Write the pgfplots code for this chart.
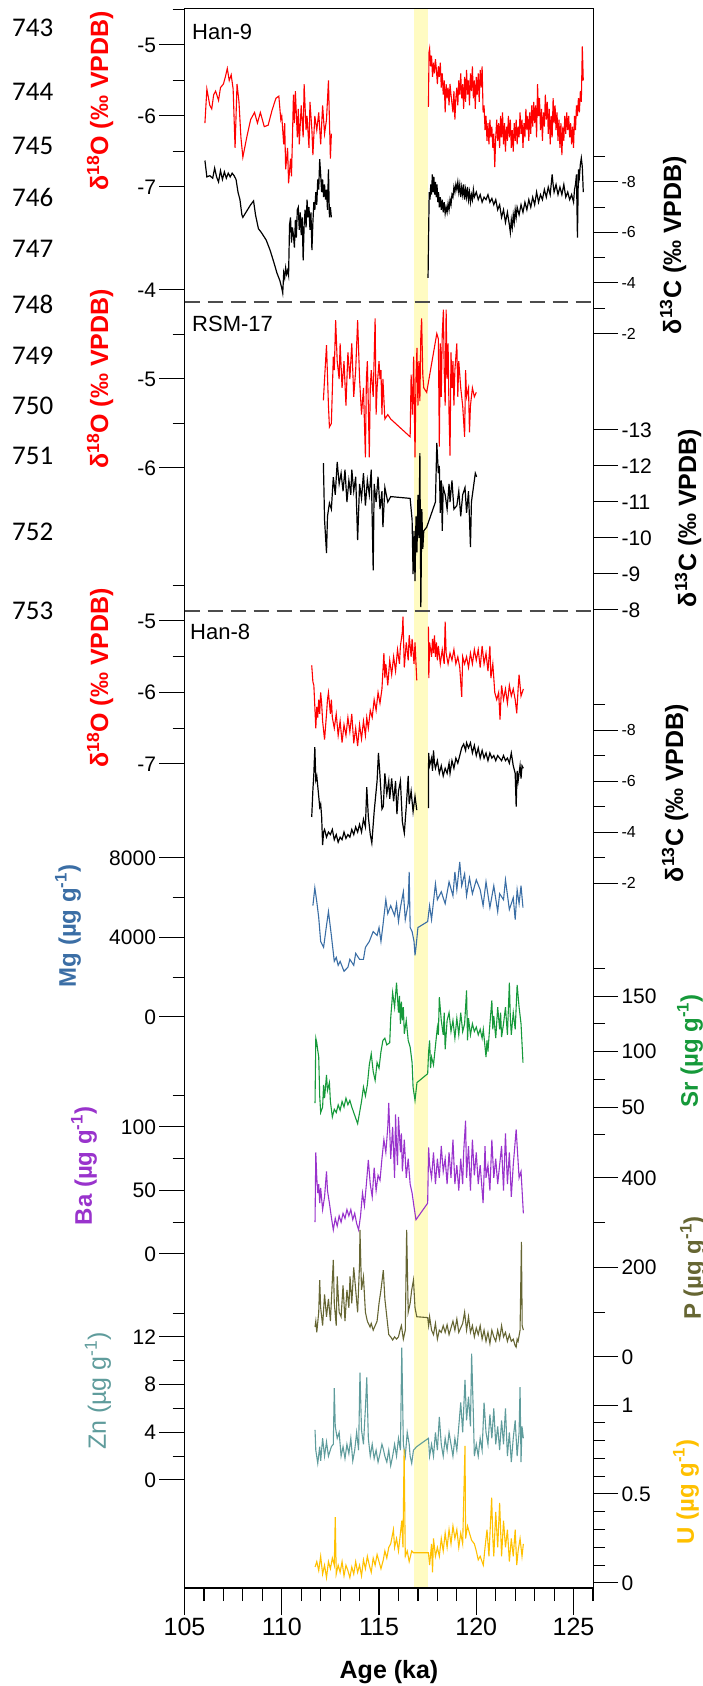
\documentclass[border=0pt]{standalone}
\usepackage{pgfplots}
\pgfplotsset{compat=1.18}
\usepackage{fontspec}
\setmainfont{Liberation Sans}
\newfontfamily\calib{Carlito}
\definecolor{cRed}{HTML}{FF0000}
\definecolor{cMg}{HTML}{3B6EA5}
\definecolor{cSr}{HTML}{16993A}
\definecolor{cBa}{HTML}{9933CC}
\definecolor{cP}{HTML}{666633}
\definecolor{cZn}{HTML}{5F9C9C}
\definecolor{cU}{HTML}{FFC000}
\definecolor{cBand}{HTML}{FFFBC2}
\newcommand\tfa{\fontsize{21}{22}\selectfont}
\newcommand\tfb{\fontsize{16}{17}\selectfont}
\newcommand\lab{\bfseries\fontsize{25}{26}\selectfont}
\newcommand\labb{\bfseries\fontsize{24}{25}\selectfont}
\pgfplotsset{
  lay/.style={scale only axis, width=408.5pt, height=1579pt,
    at={(184.5pt,98pt)}, anchor=south west, xmin=105, xmax=126, clip=false},
  ser/.style={lay, hide x axis, y axis line style={draw=none},
    ytick align=outside, major tick length=25pt, minor tick length=12pt,
    every tick/.style={black, line width=1pt},
    scaled y ticks=false,
    /pgf/number format/fixed, /pgf/number format/1000 sep={},
    /pgf/number format/assume math mode=true},
  L/.style={ser, axis y line*=left, yticklabel style={font=\tfa}},
  R/.style={ser, axis y line*=right, yticklabel style={font=\tfa}},
}
\begin{document}
\begin{tikzpicture}[x=1pt,y=1pt]

% ---------- frame, band, dashed separators, x axis ----------
\begin{axis}[lay, ymin=0, ymax=1, ytick=\empty,
  xtick={105,110,115,120,125},
  minor xtick={106,107,108,109,111,112,113,114,116,117,118,119,121,122,123,124,126},
  xtick pos=bottom, xtick align=outside,
  major tick length=27pt, minor tick length=13pt,
  every tick/.style={black, line width=1.2pt},
  axis line style={line width=1pt},
  xticklabel style={font=\fontsize{25}{26}\selectfont},
  /pgf/number format/assume math mode=true]
  \fill[cBand] (axis cs:116.8,0) rectangle (axis cs:117.5,1);
  \draw[black!70, line width=1.3pt, dash pattern=on 15pt off 8pt] (axis cs:105,0.8144) -- (axis cs:126,0.8144);
  \draw[black!70, line width=1.3pt, dash pattern=on 15pt off 8pt] (axis cs:105,0.6188) -- (axis cs:126,0.6188);
  \draw[line width=2.5pt] (axis cs:105,0) -- (axis cs:126,0);
\end{axis}

% ---------- Han-9 d18O (left) ----------
\begin{axis}[L, ymin=-26.732, ymax=-4.493, ytick={-7,-6,-5}, minor ytick={-6.5,-5.5,-4.5}]
\addplot[cRed, line width=1.1pt] coordinates {
(106.05,-6.10)(106.15,-5.62)(106.3,-5.85)(106.4,-5.90)(106.5,-5.70)(106.6,-5.65)(106.75,-5.78)(106.85,-5.60)
(107.0,-5.55)(107.1,-5.45)(107.2,-5.33)(107.3,-5.50)(107.4,-5.42)(107.5,-5.62)(107.6,-6.45)(107.7,-5.55)
(107.8,-5.80)(107.9,-6.30)(108.0,-6.58)(108.2,-6.30)(108.4,-6.05)(108.6,-5.95)(108.75,-6.10)(108.9,-5.95)
(109.1,-6.15)(109.3,-6.13)(109.5,-5.92)(109.7,-5.75)(109.85,-5.72)(109.95,-6.05)(110.0,-6.00)(110.05,-6.20)
(110.1,-6.40)(110.15,-6.10)(110.2,-6.75)(110.3,-6.45)(110.35,-6.95)(110.45,-6.60)(110.5,-6.85)(110.55,-6.30)
(110.6,-5.70)(110.65,-6.10)(110.7,-5.65)(110.8,-6.30)(110.85,-5.90)(110.9,-6.40)(111.0,-5.85)(111.1,-6.30)
(111.15,-5.55)(111.25,-6.20)(111.3,-6.00)(111.4,-6.45)(111.45,-5.80)(111.55,-6.20)(111.6,-6.55)(111.7,-6.00)
(111.8,-6.20)(111.9,-5.95)(112.0,-6.40)(112.1,-5.85)(112.2,-6.25)(112.3,-6.05)(112.4,-5.50)(112.5,-6.60)(112.55,-6.25)};
\addplot[cRed, line width=1.1pt] coordinates {
(117.54,-5.87)(117.57,-5.10)(117.60,-5.05)(117.65,-5.30)(117.70,-5.15)(117.75,-5.45)(117.80,-5.25)(117.85,-5.40)
(117.90,-5.20)(117.95,-5.35)(118.00,-5.55)(118.05,-5.30)(118.10,-5.45)(118.15,-5.25)(118.20,-5.60)(118.25,-5.40)
(118.30,-5.70)(118.35,-5.50)(118.40,-5.95)(118.45,-5.55)(118.50,-5.75)(118.55,-5.60)(118.60,-5.85)(118.65,-5.55)
(118.70,-5.70)(118.80,-5.95)(118.85,-5.65)(118.90,-6.05)(118.95,-5.75)(119.00,-5.60)(119.05,-5.85)(119.10,-5.50)
(119.15,-5.70)(119.20,-5.40)(119.25,-5.75)(119.30,-5.55)(119.35,-5.90)(119.40,-5.45)(119.45,-5.80)(119.50,-5.35)
(119.55,-5.70)(119.60,-5.50)(119.65,-5.85)(119.70,-5.40)(119.75,-5.65)(119.80,-5.30)(119.85,-5.75)(119.90,-5.50)
(119.95,-5.90)(120.00,-5.45)(120.05,-5.70)(120.10,-5.40)(120.15,-5.80)(120.20,-5.35)(120.25,-5.60)(120.30,-5.30)
(120.35,-5.95)(120.40,-5.85)(120.45,-6.20)(120.50,-6.00)(120.55,-6.35)(120.60,-6.10)(120.65,-6.40)(120.70,-6.05)
(120.75,-6.30)(120.80,-6.15)(120.85,-6.45)(120.90,-6.25)(120.95,-6.72)(121.00,-6.30)(121.05,-6.05)(121.10,-6.35)
(121.15,-6.10)(121.20,-6.45)(121.25,-6.00)(121.30,-6.30)(121.35,-5.95)(121.40,-6.40)(121.45,-6.10)(121.50,-6.50)
(121.55,-6.15)(121.60,-6.35)(121.65,-6.00)(121.70,-6.30)(121.75,-6.05)(121.80,-6.45)(121.85,-6.20)(121.90,-6.50)
(121.95,-6.10)(122.00,-6.35)(122.05,-6.05)(122.10,-6.40)(122.15,-6.15)(122.20,-6.30)(122.25,-5.95)(122.30,-6.25)
(122.35,-6.05)(122.40,-6.45)(122.45,-6.10)(122.50,-6.30)(122.55,-5.90)(122.60,-6.20)(122.65,-6.00)(122.70,-6.35)
(122.75,-5.95)(122.80,-6.25)(122.85,-5.85)(122.90,-6.15)(122.95,-5.80)(123.00,-6.10)(123.05,-5.85)(123.10,-6.30)
(123.15,-5.55)(123.20,-6.00)(123.25,-5.75)(123.30,-6.20)(123.35,-5.90)(123.40,-6.35)(123.45,-5.95)(123.50,-6.15)
(123.55,-5.70)(123.60,-6.05)(123.65,-5.80)(123.70,-6.25)(123.75,-5.90)(123.80,-6.40)(123.85,-6.00)(123.90,-6.30)
(123.95,-5.75)(124.00,-6.10)(124.05,-5.85)(124.10,-6.20)(124.15,-5.95)(124.20,-6.35)(124.25,-6.05)(124.30,-6.45)
(124.35,-6.10)(124.40,-6.55)(124.45,-6.15)(124.50,-6.35)(124.55,-6.00)(124.60,-6.25)(124.65,-5.95)(124.70,-6.20)
(124.75,-6.00)(124.80,-6.30)(124.85,-6.10)(124.90,-6.40)(124.95,-6.15)(125.00,-6.45)(125.05,-6.00)(125.10,-6.20)
(125.15,-5.85)(125.20,-6.00)(125.25,-5.75)(125.30,-5.95)(125.35,-5.65)(125.40,-5.80)(125.45,-5.02)(125.50,-5.50)};
\end{axis}

% ---------- Han-9 d13C (right, reversed) ----------
\begin{axis}[R, y dir=reverse, ymin=-14.851, ymax=47.683, ytick={-8,-6,-4,-2}, minor ytick={-9,-7,-5,-3},
  yticklabel style={font=\tfb}]
\addplot[black, line width=1.2pt] coordinates {
(106.05,-8.85)(106.15,-8.2)(106.3,-8.25)(106.45,-8.15)(106.55,-8.55)(106.65,-8.2)(106.75,-8.0)(106.85,-8.45)
(106.95,-8.1)(107.05,-8.4)(107.15,-8.15)(107.25,-8.35)(107.35,-8.2)(107.45,-8.35)(107.55,-8.25)(107.65,-8.1)
(107.75,-7.6)(107.85,-7.3)(107.95,-6.7)(108.0,-6.6)(108.2,-6.85)(108.4,-7.1)(108.55,-7.25)(108.65,-6.7)
(108.8,-6.15)(108.95,-6.0)(109.2,-5.7)(109.4,-5.3)(109.6,-4.8)(109.75,-4.4)(109.9,-4.1)(110.0,-3.8)
(110.05,-3.6)(110.1,-4.4)(110.15,-4.2)(110.2,-4.6)(110.25,-4.35)(110.3,-4.5)(110.35,-4.3)(110.4,-6.3)
(110.45,-6.6)(110.5,-5.6)(110.55,-6.2)(110.6,-5.9)(110.65,-5.4)(110.7,-6.5)(110.75,-5.8)(110.8,-6.9)
(110.85,-7.0)(110.9,-6.1)(110.95,-6.8)(111.0,-5.9)(111.05,-6.6)(111.1,-4.9)(111.15,-6.3)(111.2,-6.9)
(111.25,-6.2)(111.3,-7.3)(111.35,-6.6)(111.4,-7.0)(111.45,-6.1)(111.5,-6.8)(111.55,-5.3)(111.6,-6.4)
(111.65,-7.2)(111.7,-6.9)(111.75,-7.6)(111.8,-7.1)(111.85,-8.1)(111.9,-7.7)(111.95,-8.9)(112.0,-8.3)
(112.05,-7.6)(112.1,-8.1)(112.15,-7.4)(112.2,-7.9)(112.25,-7.3)(112.3,-7.7)(112.35,-6.9)(112.4,-8.5)
(112.45,-6.6)(112.5,-7.0)(112.55,-6.6)};
\addplot[black, line width=1.2pt] coordinates {
(117.52,-4.2)(117.55,-6.0)(117.58,-7.6)(117.62,-7.3)(117.66,-7.9)(117.7,-7.5)(117.74,-8.3)(117.78,-7.6)
(117.82,-8.2)(117.86,-7.5)(117.9,-8.0)(117.94,-7.4)(117.98,-7.9)(118.02,-7.2)(118.06,-7.6)(118.1,-7.0)
(118.15,-7.4)(118.2,-6.9)(118.25,-7.3)(118.3,-6.8)(118.35,-7.2)(118.4,-6.75)(118.45,-7.0)(118.5,-6.8)
(118.55,-7.15)(118.6,-6.9)(118.65,-7.3)(118.7,-7.1)(118.75,-7.5)(118.8,-7.4)(118.85,-7.8)(118.9,-7.6)
(118.95,-7.9)(119.0,-7.7)(119.05,-8.0)(119.1,-7.6)(119.15,-7.9)(119.2,-7.4)(119.25,-7.8)(119.3,-7.5)
(119.35,-7.9)(119.4,-7.3)(119.45,-7.7)(119.5,-7.4)(119.55,-7.8)(119.6,-7.3)(119.65,-7.6)(119.7,-7.2)
(119.75,-7.5)(119.8,-7.3)(119.85,-7.7)(119.9,-7.4)(120.0,-7.6)(120.1,-7.3)(120.2,-7.5)(120.3,-7.2)
(120.4,-7.4)(120.5,-7.3)(120.6,-7.5)(120.7,-7.2)(120.8,-7.35)(120.9,-7.1)(121.0,-7.3)(121.1,-6.9)
(121.2,-7.1)(121.3,-6.6)(121.4,-6.9)(121.5,-6.4)(121.6,-6.8)(121.7,-6.3)(121.75,-6.0)(121.8,-6.5)
(121.85,-6.2)(121.9,-6.7)(121.95,-6.4)(122.0,-6.9)(122.05,-6.6)(122.1,-7.0)(122.2,-6.7)(122.3,-7.1)
(122.4,-6.8)(122.5,-7.2)(122.6,-6.9)(122.7,-7.3)(122.8,-7.0)(122.9,-7.4)(123.0,-7.1)(123.1,-7.6)
(123.2,-7.2)(123.3,-7.5)(123.4,-7.3)(123.5,-7.7)(123.6,-7.4)(123.7,-7.8)(123.8,-7.5)(123.9,-8.3)
(123.95,-7.9)(124.0,-7.6)(124.1,-7.9)(124.2,-7.5)(124.3,-7.8)(124.4,-7.5)(124.5,-7.9)(124.6,-7.4)
(124.7,-7.6)(124.8,-7.3)(124.9,-7.5)(125.0,-7.2)(125.05,-7.7)(125.1,-7.9)(125.15,-8.3)(125.2,-5.8)
(125.25,-8.5)(125.3,-8.2)(125.35,-8.7)(125.4,-8.95)(125.45,-8.6)(125.5,-7.6)};
\end{axis}

% ---------- RSM-17 d18O (left) ----------
\begin{axis}[L, ymin=-18.584, ymax=-0.8427, ytick={-6,-5,-4}, minor ytick={-5.5,-4.5}]
\addplot[cRed, line width=1.1pt] coordinates {
(112.14,-5.24)(112.2,-5.0)(112.3,-4.62)(112.4,-5.3)(112.45,-5.54)(112.55,-5.5)(112.65,-4.75)(112.7,-4.9)
(112.77,-4.34)(112.85,-4.8)(112.95,-5.0)(113.0,-4.6)(113.1,-5.1)(113.2,-4.8)(113.3,-5.3)(113.4,-4.7)
(113.5,-5.0)(113.6,-4.6)(113.7,-5.2)(113.8,-4.9)(113.9,-4.34)(114.0,-5.0)(114.1,-5.4)(114.2,-5.1)
(114.3,-5.88)(114.35,-5.0)(114.4,-4.8)(114.45,-5.3)(114.5,-5.88)(114.55,-5.1)(114.6,-4.9)(114.7,-5.2)
(114.8,-4.32)(114.85,-5.4)(114.9,-5.1)(115.0,-4.8)(115.05,-5.0)(115.1,-4.9)(115.15,-5.4)(115.2,-5.0)
(115.3,-5.45)(115.45,-5.4)(115.6,-5.45)(116.6,-5.65)(116.65,-4.95)(116.72,-5.4)(116.78,-4.75)(116.85,-5.88)
(116.9,-5.0)(116.95,-4.65)(117.0,-5.3)(117.05,-4.8)(117.1,-5.25)(117.15,-4.5)(117.19,-4.32)(117.25,-4.95)
(117.3,-5.1)(117.45,-5.15)(117.97,-4.49)(118.05,-4.55)(118.1,-5.76)(118.15,-4.6)(118.2,-5.2)(118.25,-4.5)
(118.31,-4.22)(118.35,-4.9)(118.4,-5.3)(118.45,-4.22)(118.5,-5.0)(118.55,-4.6)(118.6,-5.4)(118.65,-5.86)
(118.7,-4.7)(118.75,-5.1)(118.8,-4.8)(118.85,-5.3)(118.9,-4.9)(119.0,-4.6)(119.05,-5.2)(119.1,-4.8)
(119.2,-5.1)(119.3,-5.3)(119.4,-5.65)(119.45,-4.9)(119.5,-5.2)(119.6,-5.1)(119.65,-5.6)(119.7,-5.3)
(119.8,-5.1)(119.9,-5.2)(120.0,-5.15)};
\end{axis}

% ---------- RSM-17 d13C (right, reversed) ----------
\begin{axis}[R, y dir=reverse, ymin=-24.694, ymax=19.167, ytick={-13,-12,-11,-10,-9,-8}]
\addplot[black, line width=1.2pt] coordinates {
(112.14,-12.08)(112.2,-10.5)(112.3,-9.58)(112.35,-10.6)(112.45,-10.97)(112.55,-10.8)(112.65,-11.69)(112.75,-11.2)
(112.85,-12.11)(112.95,-11.5)(113.05,-11.8)(113.15,-11.3)(113.25,-11.9)(113.35,-11.0)(113.45,-11.6)(113.55,-11.2)
(113.6,-11.9)(113.7,-11.3)(113.8,-11.7)(113.9,-9.94)(114.0,-11.5)(114.1,-11.1)(114.2,-11.8)(114.3,-10.9)
(114.4,-11.6)(114.5,-11.2)(114.6,-11.9)(114.7,-9.1)(114.75,-11.5)(114.85,-11.0)(114.95,-11.7)(115.05,-10.8)
(115.15,-11.3)(115.2,-10.3)(115.3,-11.4)(115.45,-11.0)(115.6,-11.15)(116.6,-11.1)(116.7,-10.5)(116.75,-9.0)
(116.8,-10.2)(116.85,-8.8)(116.9,-10.6)(116.95,-9.6)(117.0,-11.2)(117.05,-10.0)(117.1,-12.36)(117.12,-10.5)
(117.15,-8.08)(117.2,-10.8)(117.25,-9.7)(117.3,-10.2)(117.45,-10.3)(117.9,-11.0)(117.97,-12.64)(118.05,-11.8)
(118.1,-12.0)(118.15,-10.7)(118.2,-11.6)(118.25,-10.2)(118.3,-11.4)(118.4,-11.2)(118.5,-10.8)(118.6,-11.5)
(118.65,-11.0)(118.75,-11.6)(118.85,-10.8)(119.0,-10.9)(119.1,-11.3)(119.2,-10.6)(119.3,-11.2)(119.42,-11.4)
(119.5,-10.7)(119.6,-11.3)(119.7,-9.75)(119.75,-11.0)(119.85,-11.4)(119.95,-11.8)(120.02,-11.7)};
\end{axis}

% ---------- Han-8 d18O (left) ----------
\begin{axis}[L, ymin=-18.524, ymax=3.559, ytick={-7,-6,-5}, minor ytick={-6.5,-5.5,-4.5}]
\addplot[cRed, line width=1.1pt] coordinates {
(111.54,-5.62)(111.6,-5.85)(111.65,-5.9)(111.7,-6.2)(111.75,-6.5)(111.8,-6.2)(111.85,-6.35)(111.9,-6.1)
(111.95,-6.3)(112.0,-6.0)(112.05,-6.15)(112.1,-6.4)(112.2,-6.66)(112.3,-6.3)(112.35,-6.1)(112.4,-6.0)
(112.5,-6.3)(112.55,-6.1)(112.6,-6.35)(112.7,-6.5)(112.8,-6.3)(112.9,-6.6)(113.0,-6.4)(113.1,-6.7)
(113.2,-6.45)(113.3,-6.6)(113.4,-6.35)(113.5,-6.55)(113.6,-6.3)(113.7,-6.71)(113.8,-6.5)(113.9,-6.75)
(114.0,-6.45)(114.1,-6.65)(114.2,-6.4)(114.3,-6.6)(114.37,-6.35)(114.45,-6.5)(114.55,-6.25)(114.65,-6.35)
(114.75,-6.1)(114.85,-6.25)(114.95,-6.0)(115.05,-6.15)(115.15,-5.95)(115.25,-5.45)(115.3,-5.8)(115.35,-5.6)
(115.45,-5.9)(115.55,-5.55)(115.65,-5.75)(115.75,-5.5)(115.85,-5.7)(115.95,-5.4)(116.05,-5.6)(116.1,-5.35)
(116.2,-5.15)(116.23,-4.94)(116.3,-5.65)(116.4,-5.3)(116.5,-5.55)(116.55,-5.2)(116.65,-5.5)(116.7,-5.25)
(116.8,-5.6)(116.85,-5.3)(116.94,-5.83)};
\addplot[cRed, line width=1.1pt] coordinates {
(117.54,-5.08)(117.56,-5.8)(117.6,-5.3)(117.7,-5.5)(117.75,-5.25)(117.8,-5.45)(117.85,-5.2)(117.9,-5.5)
(117.95,-5.3)(118.0,-5.55)(118.05,-5.35)(118.15,-5.6)(118.25,-5.4)(118.35,-5.6)(118.4,-5.01)(118.45,-5.45)
(118.55,-5.6)(118.65,-5.45)(118.75,-5.55)(118.85,-5.4)(118.95,-5.6)(119.05,-5.5)(119.15,-5.65)(119.25,-6.06)
(119.3,-5.5)(119.4,-5.6)(119.5,-5.5)(119.6,-5.65)(119.7,-5.45)(119.8,-5.6)(119.9,-5.4)(120.0,-5.55)
(120.1,-5.4)(120.2,-5.65)(120.3,-5.35)(120.4,-5.6)(120.5,-5.45)(120.6,-5.7)(120.7,-5.35)(120.75,-5.8)
(120.85,-5.6)(120.95,-6.0)(121.05,-6.1)(121.15,-6.0)(121.22,-6.38)(121.3,-5.9)(121.4,-6.1)(121.5,-5.95)
(121.6,-6.15)(121.7,-5.9)(121.8,-6.05)(121.9,-5.95)(122.0,-6.1)(122.08,-6.29)(122.15,-5.95)(122.2,-5.75)
(122.3,-6.05)(122.42,-5.95)};
\end{axis}

% ---------- Han-8 d13C (right, reversed) ----------
\begin{axis}[R, y dir=reverse, ymin=-36.275, ymax=25.647, ytick={-8,-6,-4,-2}, minor ytick={-9,-7,-5,-3},
  yticklabel style={font=\tfb}]
\addplot[black, line width=1.2pt] coordinates {
(111.54,-4.59)(111.6,-5.65)(111.65,-6.3)(111.7,-7.33)(111.75,-6.04)(111.8,-6.2)(111.85,-5.8)(111.9,-5.4)
(111.95,-4.98)(112.0,-5.1)(112.05,-4.6)(112.1,-3.49)(112.15,-4.0)(112.2,-4.1)(112.3,-3.8)(112.4,-4.0)
(112.5,-3.9)(112.6,-4.1)(112.7,-3.7)(112.8,-3.9)(112.9,-3.6)(113.0,-3.8)(113.1,-3.7)(113.2,-4.0)
(113.3,-3.75)(113.4,-3.9)(113.5,-3.8)(113.6,-4.1)(113.7,-3.9)(113.8,-4.2)(113.9,-4.0)(114.0,-4.3)
(114.1,-4.0)(114.2,-4.5)(114.3,-4.2)(114.37,-5.76)(114.45,-4.6)(114.55,-3.9)(114.63,-3.57)(114.75,-4.8)
(114.9,-6.0)(114.97,-7.1)(115.05,-6.2)(115.15,-4.9)(115.22,-5.0)(115.3,-6.3)(115.4,-5.5)(115.5,-6.0)
(115.55,-5.3)(115.65,-6.1)(115.75,-5.2)(115.85,-6.0)(115.92,-4.7)(116.0,-5.6)(116.1,-6.0)(116.2,-4.4)
(116.3,-3.96)(116.4,-5.0)(116.5,-6.2)(116.55,-5.1)(116.65,-5.6)(116.75,-4.8)(116.85,-5.4)(116.94,-4.86)};
\addplot[black, line width=1.2pt] coordinates {
(117.54,-4.94)(117.55,-7.1)(117.6,-6.6)(117.7,-6.9)(117.75,-6.4)(117.8,-7.2)(117.85,-6.7)(117.9,-6.5)
(118.0,-6.8)(118.1,-6.3)(118.2,-6.6)(118.3,-6.2)(118.4,-6.5)(118.5,-6.3)(118.6,-6.7)(118.65,-6.3)
(118.75,-6.8)(118.85,-6.5)(118.95,-6.9)(119.05,-6.7)(119.15,-7.0)(119.25,-7.3)(119.35,-7.45)(119.45,-7.2)
(119.5,-7.5)(119.6,-7.3)(119.7,-7.5)(119.8,-7.1)(119.9,-7.4)(120.0,-7.0)(120.1,-7.3)(120.2,-6.9)
(120.3,-7.2)(120.4,-6.9)(120.5,-7.1)(120.6,-6.8)(120.7,-7.1)(120.8,-6.9)(120.9,-7.0)(121.0,-6.8)
(121.1,-7.0)(121.2,-6.9)(121.3,-6.8)(121.4,-7.0)(121.5,-6.8)(121.6,-6.9)(121.7,-6.7)(121.8,-7.1)
(121.9,-6.6)(122.0,-6.3)(122.05,-5.0)(122.1,-6.4)(122.15,-6.0)(122.25,-6.6)(122.3,-6.1)(122.35,-6.6)(122.42,-6.5)};
\end{axis}

% ---------- Mg (left) ----------
\begin{axis}[L, ymin=-28729, ymax=50717, ytick={0,4000,8000}, minor ytick={2000,6000}]
\addplot[cMg, line width=1.1pt] coordinates {
(111.6,5600)(111.7,6500)(111.8,5800)(111.9,5000)(112.0,3800)(112.15,3500)(112.3,4600)(112.4,5300)
(112.55,4100)(112.7,2800)(112.8,3000)(112.9,2600)(113.0,2800)(113.2,2300)(113.4,2500)(113.5,2900)
(113.7,2600)(113.8,3200)(114.0,2900)(114.2,2900)(114.3,3500)(114.5,3800)(114.7,4300)(114.9,4100)
(115.0,4500)(115.1,3800)(115.2,4600)(115.35,5900)(115.45,5200)(115.6,5600)(115.8,5100)(115.9,5700)
(116.0,4800)(116.1,5500)(116.25,6300)(116.35,4900)(116.5,5700)(116.55,7300)(116.6,4500)(116.7,4300)
(116.8,3800)(116.85,3100)(116.9,3500)(117.0,4500)(117.5,4800)(117.6,5600)(117.7,4900)(117.9,6700)
(118.0,5900)(118.2,6300)(118.4,5700)(118.6,6800)(118.8,6100)(118.9,7300)(119.0,6400)(119.15,7800)
(119.25,6600)(119.4,7200)(119.5,6100)(119.65,7000)(119.8,6200)(120.0,6900)(120.2,6400)(120.35,5600)
(120.5,6800)(120.7,5500)(120.9,6600)(121.1,5300)(121.2,6200)(121.4,5900)(121.5,6900)(121.7,5400)
(121.9,6000)(122.0,4900)(122.1,6400)(122.2,5700)(122.3,6600)(122.4,5500)};
\end{axis}

% ---------- Sr (right) ----------
\begin{axis}[R, ymin=-383.3, ymax=1039.2, ytick={50,100,150}, minor ytick={25,75,125,175}]
\addplot[cSr, line width=1.1pt] coordinates {
(111.71,53.6)(111.75,112)(111.8,108)(111.85,101)(111.9,95)(111.95,60)(112.0,45)(112.1,50)
(112.15,70)(112.2,58)(112.3,79)(112.35,65)(112.45,72)(112.5,55)(112.6,41)(112.7,48)
(112.8,45)(112.9,52)(113.0,47)(113.1,55)(113.2,50)(113.3,58)(113.4,52)(113.5,56)
(113.6,50)(113.7,45)(113.8,40)(113.9,35)(114.0,45)(114.1,55)(114.2,68)(114.3,60)
(114.4,70)(114.5,88)(114.6,98)(114.7,82)(114.8,74)(114.9,90)(115.0,85)(115.1,100)
(115.2,110)(115.3,112)(115.4,106)(115.55,108)(115.6,130)(115.7,153)(115.8,140)(115.9,162)
(116.0,135)(116.05,150)(116.1,125)(116.15,145)(116.2,128)(116.25,140)(116.3,116)(116.4,128)
(116.5,110)(116.6,104)(116.7,90)(116.75,68)(116.85,56)(116.95,72)(117.5,80)(117.55,100)
(117.6,110)(117.65,85)(117.7,95)(117.8,88)(117.9,105)(118.0,122)(118.05,115)(118.1,149)
(118.2,128)(118.3,115)(118.35,135)(118.4,102)(118.5,128)(118.6,135)(118.7,118)(118.8,128)
(118.9,112)(119.0,130)(119.1,115)(119.2,135)(119.3,118)(119.4,125)(119.5,155)(119.55,110)
(119.6,130)(119.7,115)(119.8,125)(119.9,118)(120.0,122)(120.1,115)(120.2,120)(120.3,112)
(120.36,120)(120.5,95)(120.55,110)(120.6,100)(120.7,125)(120.8,146)(120.85,120)(120.9,132)
(121.0,112)(121.1,140)(121.2,120)(121.25,135)(121.3,113)(121.4,125)(121.5,140)(121.6,115)
(121.7,162)(121.75,130)(121.8,115)(121.9,135)(122.0,120)(122.1,160)(122.2,140)(122.3,125)(122.4,90)};
\end{axis}

% ---------- Ba (left) ----------
\begin{axis}[L, ymin=-263.0, ymax=980.3, ytick={0,50,100}, minor ytick={25,75,125}]
\addplot[cBa, line width=1.1pt] coordinates {
(111.71,25)(111.75,80)(111.8,60)(111.85,48)(111.9,55)(111.95,40)(112.0,52)(112.1,35)
(112.2,45)(112.3,65)(112.35,50)(112.45,40)(112.55,29)(112.65,19)(112.75,28)(112.85,22)
(112.95,30)(113.05,25)(113.15,32)(113.25,28)(113.35,35)(113.45,30)(113.55,35)(113.65,27)
(113.75,32)(113.85,24)(113.95,19)(114.05,30)(114.15,48)(114.25,38)(114.35,55)(114.45,74)
(114.55,55)(114.65,45)(114.75,68)(114.85,50)(114.95,62)(115.05,58)(115.15,75)(115.25,90)
(115.35,80)(115.45,100)(115.5,119)(115.6,75)(115.7,100)(115.8,60)(115.85,110)(115.9,85)
(115.95,70)(116.0,108)(116.1,80)(116.15,95)(116.2,65)(116.3,90)(116.4,60)(116.5,75)
(116.6,55)(116.7,48)(116.8,37)(116.9,27)(117.5,40)(117.55,84)(117.6,70)(117.7,60)
(117.8,80)(117.9,55)(118.0,75)(118.1,60)(118.2,85)(118.3,65)(118.4,75)(118.5,55)
(118.6,80)(118.7,60)(118.8,90)(118.9,55)(119.0,70)(119.1,50)(119.2,75)(119.3,55)
(119.35,80)(119.45,105)(119.5,60)(119.6,85)(119.7,50)(119.8,90)(119.9,62)(120.0,80)
(120.1,55)(120.2,70)(120.35,40)(120.45,85)(120.5,60)(120.6,70)(120.7,50)(120.8,90)
(120.9,60)(121.0,75)(121.1,55)(121.2,70)(121.3,85)(121.4,50)(121.5,95)(121.6,55)
(121.7,80)(121.8,45)(121.9,70)(122.05,98)(122.2,60)(122.3,65)(122.42,32)};
\end{axis}

% ---------- P (right) ----------
\begin{axis}[R, ymin=-516.2, ymax=3012.3, ytick={0,200,400}, minor ytick={100,300}]
\addplot[cP, line width=1.1pt] coordinates {
(111.71,67)(111.75,80)(111.8,55)(111.9,100)(111.95,172)(112.0,110)(112.1,70)(112.2,140)
(112.3,90)(112.4,130)(112.5,80)(112.65,217)(112.7,120)(112.8,70)(112.85,180)(112.95,100)
(113.05,90)(113.15,160)(113.25,80)(113.35,150)(113.45,110)(113.51,180)(113.6,120)(113.7,200)
(113.8,150)(113.9,100)(114.0,210)(114.02,284)(114.1,150)(114.2,179)(114.3,100)(114.4,80)
(114.54,67)(114.6,75)(114.7,60)(114.8,70)(114.9,80)(115.0,120)(115.1,150)(115.22,194)
(115.3,130)(115.4,90)(115.5,50)(115.6,45)(115.7,38)(115.8,45)(115.9,40)(116.0,45)
(116.08,60)(116.15,70)(116.25,40)(116.35,60)(116.42,284)(116.5,100)(116.6,120)(116.68,150)
(116.77,172)(116.85,110)(116.94,90)(117.5,88)(117.55,70)(117.6,90)(117.7,60)(117.8,50)
(117.9,75)(118.0,40)(118.1,60)(118.2,55)(118.3,70)(118.4,55)(118.5,72)(118.6,50)
(118.7,65)(118.8,80)(118.9,60)(119.0,85)(119.1,55)(119.3,75)(119.4,100)(119.5,60)
(119.6,90)(119.7,55)(119.8,70)(119.9,45)(120.0,65)(120.1,50)(120.2,70)(120.3,40)
(120.4,60)(120.5,35)(120.6,55)(120.7,30)(120.8,60)(120.9,45)(121.0,35)(121.1,60)
(121.2,40)(121.3,70)(121.4,45)(121.5,55)(121.6,35)(121.7,50)(121.8,35)(121.9,40)
(122.0,25)(122.05,22)(122.1,40)(122.15,35)(122.25,60)(122.32,257)(122.36,70)(122.42,60)};
\end{axis}

% ---------- Zn (left) ----------
\begin{axis}[L, ymin=-9.063, ymax=123.44, ytick={0,4,8,12}, minor ytick={2,6,10,14}]
\addplot[cZn, line width=1.1pt] coordinates {
(111.71,4.2)(111.75,2.5)(111.85,1.4)(111.95,2.8)(112.0,1.6)(112.1,3.5)(112.2,2.0)(112.3,3.2)
(112.4,2.0)(112.55,2.8)(112.65,3.0)(112.7,7.7)(112.75,4.5)(112.85,3.5)(112.95,4.0)(113.05,2.0)
(113.15,2.8)(113.25,1.8)(113.35,3.0)(113.45,2.2)(113.55,3.5)(113.65,1.6)(113.75,2.5)(113.85,4.0)
(113.95,2.5)(114.02,9.0)(114.1,4.2)(114.2,3.0)(114.3,6.0)(114.37,8.6)(114.45,3.5)(114.55,2.0)
(114.65,3.0)(114.75,1.8)(114.85,2.5)(114.95,1.5)(115.05,2.2)(115.15,3.0)(115.22,2.6)(115.3,2.0)
(115.4,1.5)(115.5,2.5)(115.6,1.2)(115.7,2.0)(115.8,3.0)(115.9,2.0)(116.0,3.5)(116.1,2.5)
(116.17,11.1)(116.25,3.0)(116.35,2.0)(116.45,4.0)(116.55,3.0)(116.6,2.0)(116.68,1.4)(116.77,2.5)
(116.94,2.8)(117.54,3.5)(117.6,2.0)(117.7,3.0)(117.8,2.0)(117.9,4.0)(118.0,2.5)(118.1,5.3)
(118.2,3.0)(118.3,2.0)(118.4,3.5)(118.5,2.5)(118.6,4.0)(118.7,3.0)(118.8,2.0)(118.9,3.5)
(119.0,2.5)(119.1,4.5)(119.2,6.5)(119.3,4.0)(119.42,8.4)(119.5,5.0)(119.6,7.0)(119.7,4.5)
(119.76,10.6)(119.85,5.5)(119.9,2.0)(120.0,3.0)(120.1,2.0)(120.2,3.5)(120.3,2.5)(120.4,6.5)
(120.5,4.0)(120.6,3.0)(120.7,5.5)(120.8,3.5)(120.9,6.0)(121.0,3.0)(121.1,4.5)(121.2,2.5)
(121.3,5.0)(121.4,3.0)(121.5,6.0)(121.6,2.0)(121.7,4.0)(121.8,1.5)(121.9,3.5)(122.0,5.0)
(122.1,2.0)(122.2,4.0)(122.25,7.8)(122.3,1.5)(122.35,4.5)(122.42,3.5)};
\end{axis}

% ---------- U (right) ----------
\begin{axis}[R, ymin=-0.0281, ymax=8.843, ytick={0,0.5,1}, minor ytick={0.1,0.2,0.3,0.4,0.6,0.7,0.8,0.9}]
\addplot[cU, line width=1.1pt] coordinates {
(111.71,0.09)(111.8,0.12)(111.9,0.07)(112.0,0.15)(112.1,0.05)(112.2,0.10)(112.3,0.03)(112.4,0.12)
(112.5,0.08)(112.6,0.14)(112.7,0.10)(112.75,0.37)(112.8,0.05)(112.9,0.10)(113.0,0.06)(113.1,0.12)
(113.2,0.04)(113.3,0.10)(113.4,0.07)(113.5,0.03)(113.6,0.09)(113.7,0.05)(113.8,0.12)(113.9,0.06)
(114.0,0.10)(114.1,0.04)(114.2,0.13)(114.3,0.08)(114.4,0.15)(114.5,0.10)(114.6,0.06)(114.7,0.14)
(114.8,0.10)(114.9,0.16)(115.0,0.12)(115.1,0.08)(115.22,0.13)(115.3,0.18)(115.4,0.14)(115.5,0.20)
(115.6,0.22)(115.74,0.30)(115.8,0.20)(115.9,0.25)(116.0,0.18)(116.1,0.28)(116.17,0.35)(116.23,0.20)
(116.29,0.75)(116.35,0.15)(116.45,0.18)(116.55,0.12)(116.68,0.18)(116.77,0.17)(116.94,0.17)(117.54,0.17)
(117.6,0.10)(117.7,0.22)(117.75,0.06)(117.8,0.25)(117.9,0.15)(118.0,0.20)(118.1,0.15)(118.2,0.25)
(118.3,0.18)(118.4,0.28)(118.5,0.20)(118.6,0.30)(118.7,0.22)(118.8,0.32)(118.9,0.25)(119.0,0.30)
(119.1,0.20)(119.2,0.28)(119.3,0.22)(119.42,0.77)(119.45,0.25)(119.55,0.32)(119.65,0.28)(119.76,0.24)
(119.9,0.22)(120.0,0.18)(120.1,0.13)(120.2,0.15)(120.36,0.10)(120.45,0.20)(120.55,0.30)(120.65,0.15)
(120.79,0.48)(120.85,0.25)(120.9,0.15)(121.0,0.40)(121.1,0.20)(121.2,0.45)(121.3,0.15)(121.4,0.35)
(121.5,0.20)(121.6,0.30)(121.7,0.12)(121.8,0.25)(121.9,0.15)(122.0,0.30)(122.08,0.10)(122.15,0.18)
(122.25,0.25)(122.35,0.15)(122.42,0.22)};
\end{axis}

% ---------- texts (pixel coordinates, y downward) ----------
\begin{scope}[shift={(0pt,1686pt)}, x=1pt, y=-1pt]
  \foreach \n/\yy in {743/28,744/92,745/146,746/198,747/249,748/304,749/356,750/406,751/456,752/532,753/611}
    \node[anchor=west, inner sep=0pt, font=\calib\fontsize{27}{28}\selectfont] at (12,\yy) {\n};
  \node[anchor=west, inner sep=0pt, font=\fontsize{22}{23}\selectfont] at (192,32) {Han-9};
  \node[anchor=west, inner sep=0pt, font=\fontsize{22}{23}\selectfont] at (192,324) {RSM-17};
  \node[anchor=west, inner sep=0pt, font=\fontsize{22}{23}\selectfont] at (190,632) {Han-8};
  \node[rotate=90, inner sep=0pt, text=cRed, font=\lab] at (100,101) {δ\textsuperscript{18}O (‰ VPDB)};
  \node[rotate=90, inner sep=0pt, text=cRed, font=\lab] at (100,379) {δ\textsuperscript{18}O (‰ VPDB)};
  \node[rotate=90, inner sep=0pt, text=cRed, font=\lab] at (100,678) {δ\textsuperscript{18}O (‰ VPDB)};
  \node[rotate=90, inner sep=0pt, font=\lab] at (673,245) {δ\textsuperscript{13}C (‰ VPDB)};
  \node[rotate=90, inner sep=0pt, font=\lab] at (688,518) {δ\textsuperscript{13}C (‰ VPDB)};
  \node[rotate=90, inner sep=0pt, font=\lab] at (675,793) {δ\textsuperscript{13}C (‰ VPDB)};
  \node[rotate=90, inner sep=0pt, text=cMg, font=\labb] at (68,926) {Mg (µg g\textsuperscript{-1})};
  \node[rotate=90, inner sep=0pt, text=cBa, font=\labb] at (84,1166) {Ba (µg g\textsuperscript{-1})};
  \node[rotate=90, inner sep=0pt, text=cZn, font=\fontsize{25}{26}\selectfont] at (98,1391) {Zn (µg g\textsuperscript{-1})};
  \node[rotate=90, inner sep=0pt, text=cSr, font=\labb] at (690,1051) {Sr (µg g\textsuperscript{-1})};
  \node[rotate=90, inner sep=0pt, text=cP, font=\labb] at (693,1268) {P (µg g\textsuperscript{-1})};
  \node[rotate=90, inner sep=0pt, text=cU, font=\labb] at (686,1492) {U (µg g\textsuperscript{-1})};
  \node[inner sep=0pt, font=\lab] at (389,1672) {Age (ka)};
\end{scope}
\pgfresetboundingbox
\path[use as bounding box] (0,0) rectangle (703,1686);
\end{tikzpicture}
\end{document}
